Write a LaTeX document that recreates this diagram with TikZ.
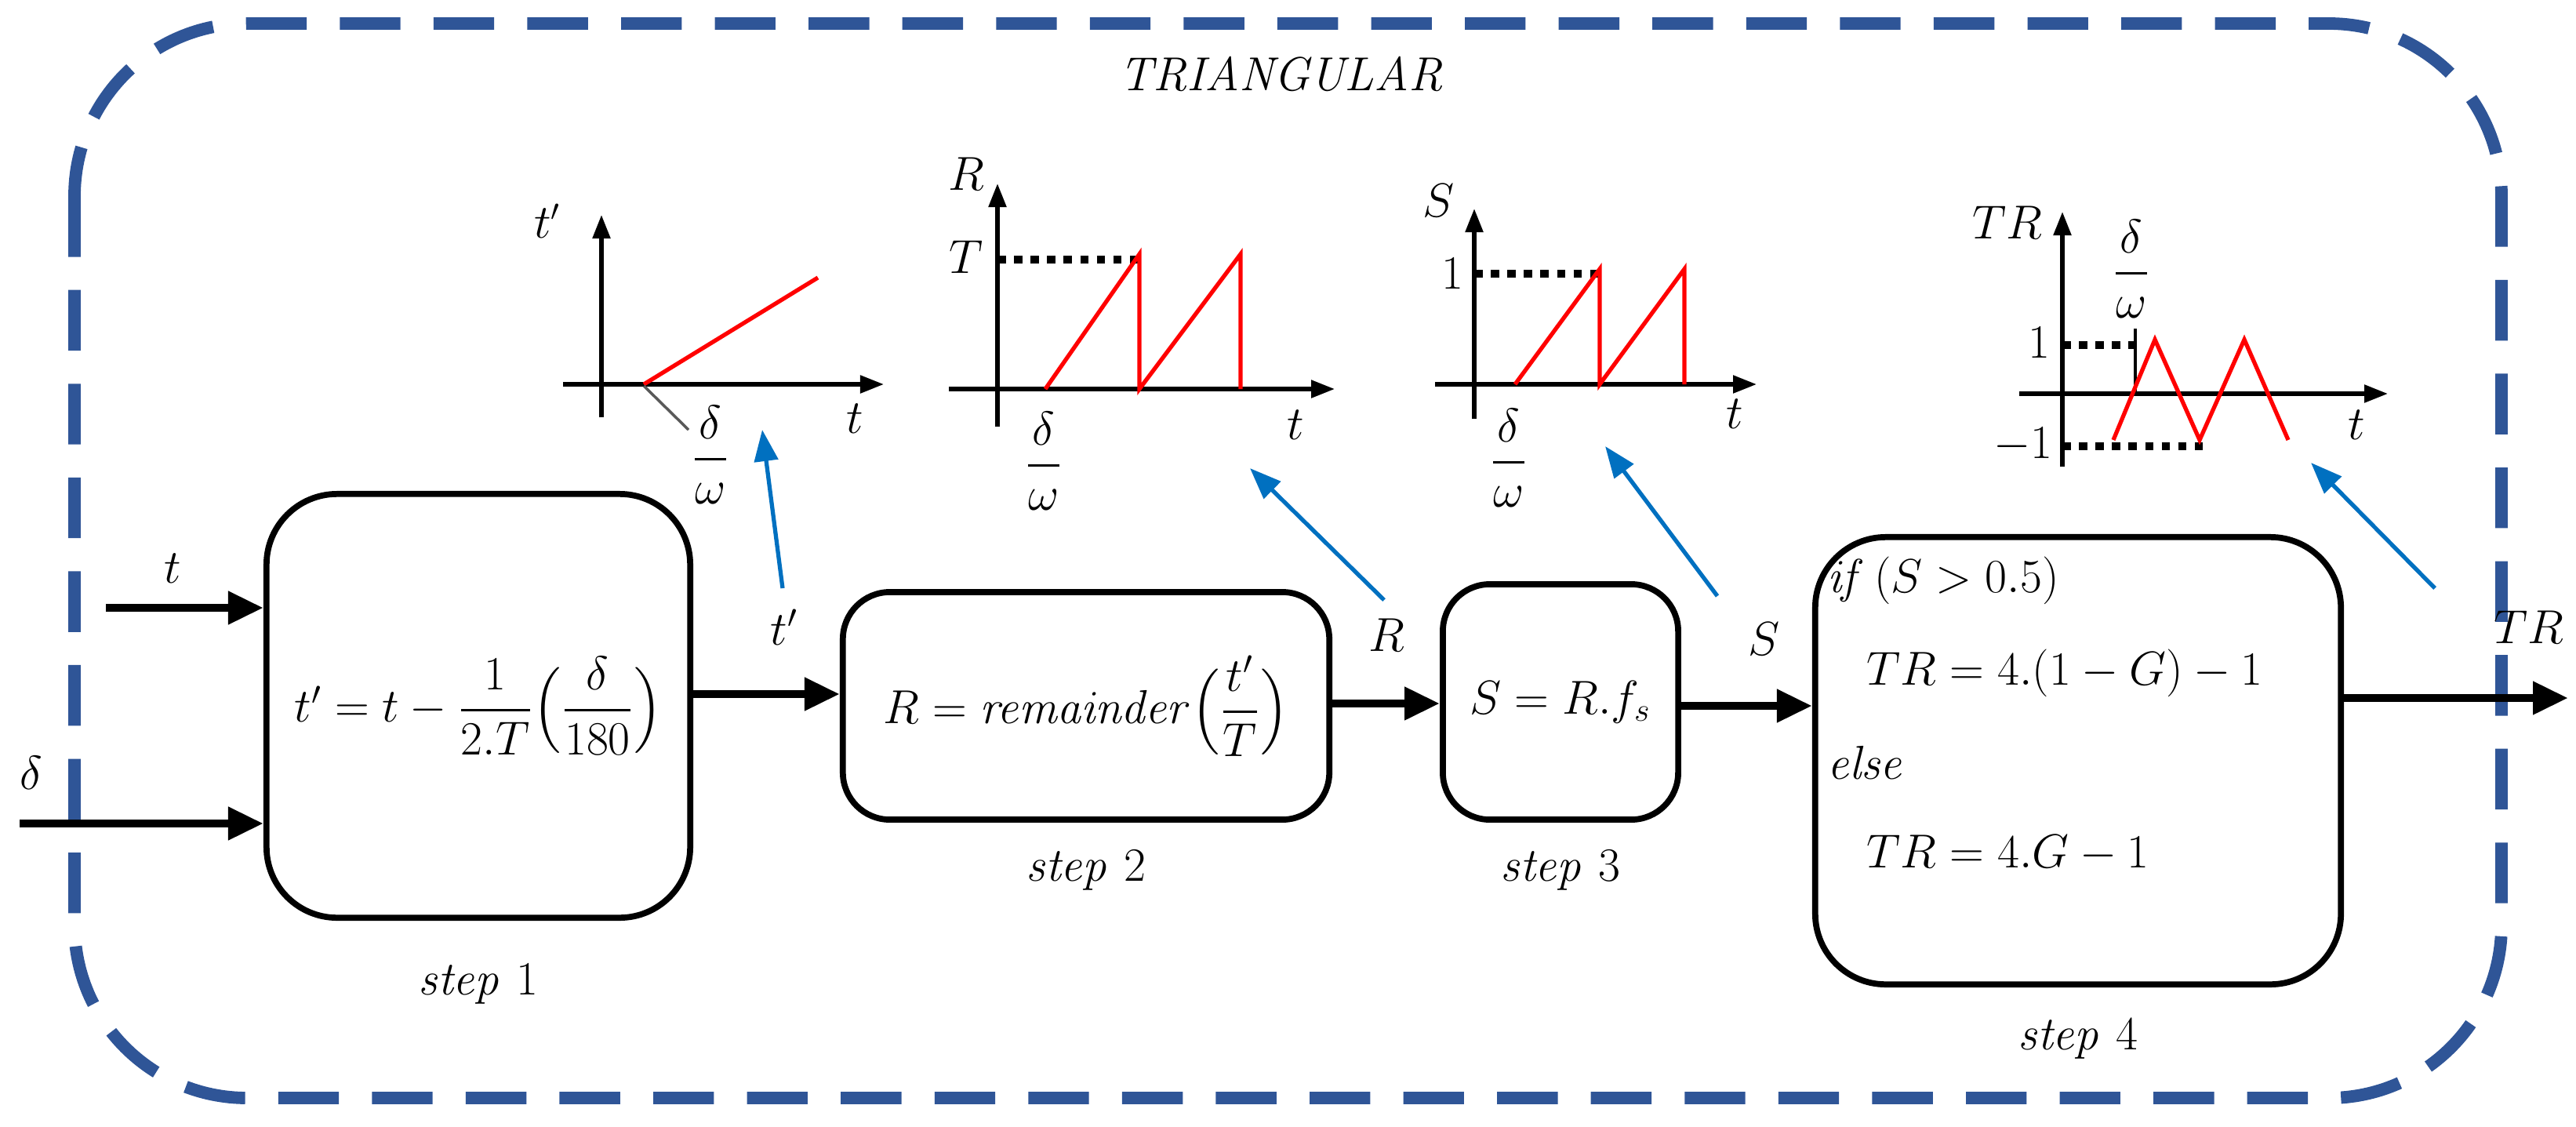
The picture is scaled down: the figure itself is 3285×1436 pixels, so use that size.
\documentclass[tikz,border=0pt]{standalone}
\usepackage{amsmath}
\usetikzlibrary{arrows.meta}
\definecolor{frameblue}{RGB}{47,85,151}
\definecolor{arrblue}{RGB}{0,112,192}
\begin{document}
\begin{tikzpicture}[x=0.01cm,y=-0.01cm,
  txt/.style={font=\fontsize{18}{22}\selectfont,inner sep=0pt},
  small/.style={font=\fontsize{16}{19}\selectfont,inner sep=0pt},
  blk/.style={draw,line width=2.2pt,rounded corners=0.9cm},
  sig/.style={line width=3pt,-{Triangle[length=0.45cm,width=0.4cm]}},
  axis/.style={line width=1.5pt,-{Triangle[length=0.3cm,width=0.22cm]}},
  red/.style={draw=red,line width=1.5pt},
  dots/.style={line width=3pt,dash pattern=on 3pt off 3pt},
  blue/.style={draw=arrblue,line width=1.5pt,-{Triangle[length=0.4cm,width=0.3cm]}}]
\useasboundingbox (0,0) rectangle (3285,1436);
\draw[frameblue,line width=4.5pt,dash pattern=on 22pt off 12pt,rounded corners=2.2cm] (95,30) rectangle (3190,1400);
\node[txt] (title) at (1635,95) {$\mathit{TRIANGULAR}$};

% blocks
\node[blk,minimum width=5.4cm,minimum height=5.4cm] (b1) at (610,900) {};
\node[txt] at (b1.center) {$t'=t-\dfrac{1}{2.T}\Big(\dfrac{\delta}{180}\Big)$};
\node[txt] (s1) at (610,1255) {$\mathit{step}\ 1$};
\node[blk,minimum width=6.2cm,minimum height=2.9cm,rounded corners=0.6cm] (b2) at (1385,900) {};
\node[txt] at (b2.center) {$R=\mathit{remainder}\Big(\dfrac{t'}{T}\Big)$};
\node[txt] (s2) at (1385,1110) {$\mathit{step}\ 2$};
\node[blk,minimum width=3.0cm,minimum height=3.0cm,rounded corners=0.6cm] (b3) at (1990,895) {};
\node[txt] at (b3.center) {$S=R.f_s$};
\node[txt] (s3) at (1990,1110) {$\mathit{step}\ 3$};
\node[blk,minimum width=6.7cm,minimum height=5.7cm] (b4) at (2650,970) {};
\node[txt,anchor=west] at (2330,740) {$\mathit{if}\,(S>0.5)$};
\node[txt,anchor=west] at (2380,858) {$TR=4.(1-G)-1$};
\node[txt,anchor=west] at (2330,972) {$\mathit{else}$};
\node[txt,anchor=west] at (2380,1088) {$TR=4.G-1$};
\node[txt] (s4) at (2650,1325) {$\mathit{step}\ 4$};

% signals
\coordinate (tin) at (135,775);
\coordinate (din) at (25,1050);
\coordinate (out) at (3275,890);
\draw[sig] (tin) -- (tin -| b1.west);
\node[txt] at (220,725) {$t$};
\draw[sig] (din) -- (din -| b1.west);
\node[txt] at (40,985) {$\delta$};
\draw[sig] (b1.east |- 0,885) -- (b2.west |- 0,885);
\node[txt] at (1000,800) {$t'$};
\draw[sig] (b2.east |- 0,897) -- (b3.west |- 0,897);
\node[txt] at (1768,810) {$R$};
\draw[sig] (b3.east |- 0,900) -- (b4.west |- 0,900);
\node[txt] at (2250,815) {$S$};
\draw[sig] (b4.east |- 0,890) -- (out);
\node[txt] at (3225,800) {$TR$};

% blue pointers
\coordinate (p1a) at (998,750); \coordinate (p1b) at (972,548);
\coordinate (p2a) at (1765,765); \coordinate (p2b) at (1594,597);
\coordinate (p3a) at (2190,760); \coordinate (p3b) at (2047,569);
\coordinate (p4a) at (3105,750); \coordinate (p4b) at (2947,590);
\draw[blue] (p1a) -- (p1b);
\draw[blue] (p2a) -- (p2b);
\draw[blue] (p3a) -- (p3b);
\draw[blue] (p4a) -- (p4b);

% graph 1
\draw[axis] (718,490) -- (1127,490);
\draw[axis] (767,532) -- (767,274);
\draw[red] (821,490) -- (1043,354);
\draw[gray!70!black,line width=1pt] (821,492) -- (878,548);
\node[small] at (698,282) {$t'$};
\node[small] at (1090,534) {$t$};
\node[small] at (906,580) {$\dfrac{\delta}{\omega}$};
% graph 2
\draw[axis] (1210,496) -- (1702,496);
\draw[axis] (1272,544) -- (1272,234);
\draw[dots] (1272,331) -- (1453,331);
\draw[red] (1333,496) -- (1453,324) -- (1453,496) -- (1582,324) -- (1582,496);
\node[small] at (1232,222) {$R$};
\node[small] at (1232,328) {$T$};
\node[small] at (1331,588) {$\dfrac{\delta}{\omega}$};
\node[small] at (1652,542) {$t$};
% graph 3
\draw[axis] (1830,490) -- (2240,490);
\draw[axis] (1880,534) -- (1880,266);
\draw[dots] (1880,349) -- (2040,349);
\draw[red] (1932,490) -- (2040,343) -- (2040,490) -- (2148,343) -- (2148,490);
\node[small] at (1835,256) {$S$};
\node[small] at (1852,349) {$1$};
\node[small] at (1924,584) {$\dfrac{\delta}{\omega}$};
\node[small] at (2212,528) {$t$};
% graph 4
\draw[axis] (2575,502) -- (3045,502);
\draw[axis] (2630,595) -- (2630,270);
\draw[dots] (2630,440) -- (2735,440);
\draw[dots] (2630,569) -- (2810,569);
\draw[line width=1pt] (2723,419) -- (2723,502);
\draw[red] (2695,561) -- (2748,433) -- (2805,561) -- (2862,433) -- (2918,561);
\node[small] at (2560,284) {$TR$};
\node[small] at (2718,343) {$\dfrac{\delta}{\omega}$};
\node[small] at (2600,437) {$1$};
\node[small] at (2580,567) {$-1$};
\node[small] at (3005,542) {$t$};
\end{tikzpicture}
\end{document}
